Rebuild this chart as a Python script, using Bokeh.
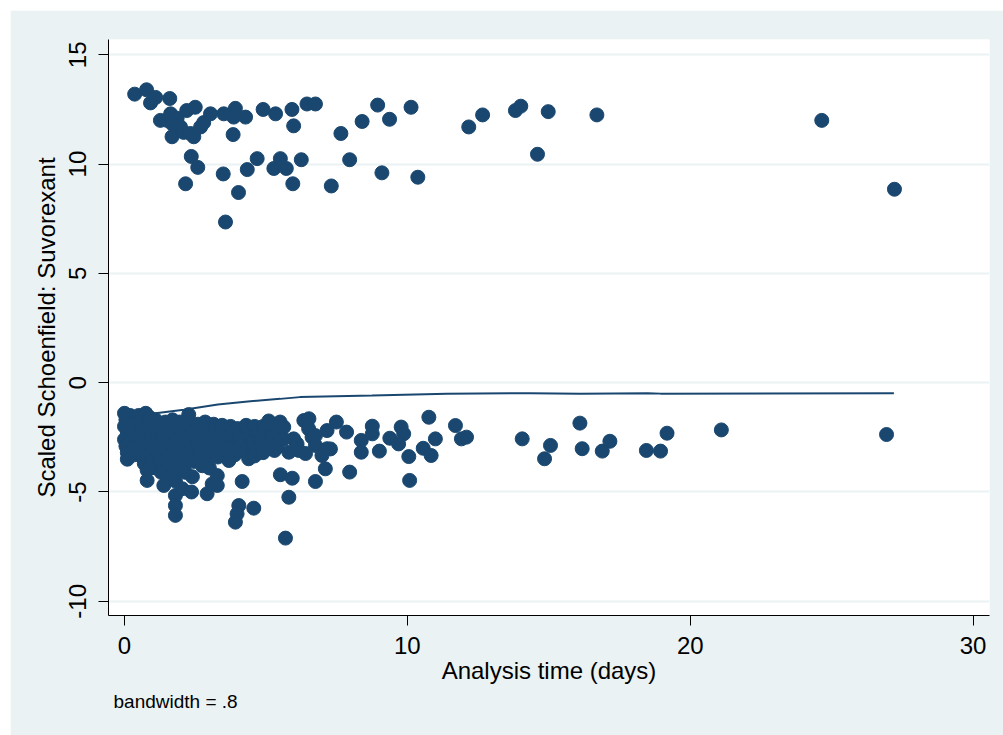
import math
from bokeh.plotting import figure
from bokeh.models import Range1d, FixedTicker, Title
from bokeh.embed import file_html
from bokeh.resources import INLINE

# Upper group of scaled Schoenfield residuals (time in days, residual)
upper_time = [0.36, 0.78, 1.10, 0.92, 1.6, 1.27, 1.51, 1.63, 1.86, 1.68, 1.68, 1.98, 2.09, 2.2, 2.5,
              2.33, 2.45, 2.69, 2.8, 3.04, 3.51, 3.92, 3.86, 4.28, 3.84, 4.9, 5.34, 5.92, 5.98, 6.45,
              6.75, 7.65, 8.4, 8.95, 9.37, 10.13, 2.36, 2.59, 2.16, 3.49, 4.03, 4.34, 4.69, 5.28, 5.51,
              5.72, 5.95, 6.25, 3.57, 7.31, 7.96, 9.1, 10.37, 12.17, 12.66, 13.82, 14.01, 14.98, 14.6,
              16.7, 24.65, 27.22]
upper_resid = [13.2, 13.4, 13.05, 12.8, 13.0, 12.0, 12.0, 12.3, 12.1, 11.85, 11.25, 11.7, 11.45, 12.45, 12.6,
               11.4, 11.25, 11.7, 11.9, 12.3, 12.3, 12.55, 12.15, 12.15, 11.35, 12.5, 12.3, 12.5, 11.75, 12.75,
               12.75, 11.4, 11.95, 12.7, 12.05, 12.6, 10.35, 9.85, 9.1, 9.55, 8.7, 9.75, 10.25, 9.8, 10.25,
               9.8, 9.1, 10.2, 7.35, 9.0, 10.2, 9.6, 9.4, 11.7, 12.25, 12.45, 12.65, 12.4, 10.45,
               12.25, 12.0, 8.85]

# Lower group: dense mass at early times, then scattered later residuals
lower_time = [0.0, 0.05, 0.0, 0.1, 0.0, 0.05, 0.1, 0.1, 0.2, 0.25, 0.3, 0.2, 0.3, 0.35,
              0.5, 0.55, 0.6, 0.5, 0.6, 0.55, 0.65, 0.7, 0.8, 0.8, 0.75, 0.9, 0.85, 0.95, 0.9, 1.0, 0.95, 1.0, 1.1,
              1.1, 1.2, 1.15, 1.25, 1.2, 1.3, 1.25, 1.35, 1.3, 1.39, 1.45, 1.5, 1.4, 1.5, 1.45, 1.55, 1.5, 1.6,
              1.7, 1.75, 1.65, 1.8, 1.7, 1.85, 1.75, 1.8, 1.8, 1.8, 1.8, 1.8, 1.95, 2.0, 2.05, 1.95, 2.1, 2.0, 2.1, 2.04, 2.15,
              2.27, 2.3, 2.25, 2.35, 2.3, 2.4, 2.35, 2.45, 2.37, 2.4, 2.6, 2.55, 2.65, 2.6, 2.7, 2.65, 2.75,
              2.85, 2.9, 2.85, 2.95, 2.9, 2.92, 3.0, 3.1, 3.0,
              3.15, 3.2, 3.1, 3.25, 3.2, 3.3, 3.28, 3.28, 3.45, 3.5, 3.55, 3.45, 3.6, 3.69, 3.75, 3.8, 3.85, 3.75, 3.9,
              4.0, 4.05, 4.1, 4.0, 4.16, 4.04, 3.98, 3.92,
              4.3, 4.35, 4.25, 4.4, 4.3, 4.39, 4.57, 4.6, 4.65, 4.55, 4.7, 4.6, 4.9, 4.95, 4.85, 5.0, 4.9,
              5.2, 5.25, 5.15, 5.3, 5.45, 5.5, 5.4, 5.51, 5.93, 5.81, 5.69, 5.1, 5.5,
              5.98, 6.63, 6.75, 6.98, 6.16, 6.4, 6.34, 6.52, 7.16, 7.16, 7.1, 6.75, 5.63, 5.63, 5.81, 6.1, 6.51, 6.75,
              7.49, 7.85, 7.28, 7.96, 8.37, 8.37, 8.76, 8.76, 9.01, 9.38, 9.78, 9.87, 9.69, 10.05, 10.08, 10.56,
              10.84, 10.99, 10.76, 11.7, 11.91, 12.09, 14.06, 15.06, 14.85, 16.1, 16.18, 16.89, 17.16, 18.45,
              18.95, 19.18, 21.1, 26.94]
lower_resid = [-1.4, -1.7, -2.0, -2.3, -2.6, -2.9, -3.2, -3.5, -1.5, -1.9, -2.2, -2.7, -3.0, -3.3,
               -1.5, -1.8, -2.2, -2.5, -2.8, -3.1, -3.4, -3.7, -4.0, -4.47, -1.4, -1.6, -2.0, -2.4, -2.7, -3.0, -3.3, -3.6, -3.9,
               -1.7, -2.0, -2.3, -2.6, -2.9, -3.2, -3.5, -3.8, -4.1, -4.7, -1.8, -2.1, -2.45, -2.75, -3.05, -3.35, -3.65, -4.3,
               -1.7, -2.0, -2.3, -2.6, -2.9, -3.2, -3.5, -3.9, -4.5, -5.16, -5.62, -6.07, -1.8, -2.1, -2.4, -2.7, -3.0, -3.3, -3.6, -4.85, -4.1,
               -1.46, -1.8, -2.1, -2.4, -2.7, -3.0, -3.3, -3.6, -5.0, -4.3, -1.9, -2.2, -2.5, -2.8, -3.1, -3.4, -3.8,
               -1.8, -2.1, -2.4, -2.7, -3.0, -5.08, -3.35, -4.63, -3.9,
               -1.9, -2.2, -2.5, -2.8, -3.1, -3.4, -4.25, -4.7, -1.95, -2.3, -2.6, -2.9, -3.2, -3.56, -2.0, -2.35, -2.7, -3.0, -3.3,
               -2.1, -2.5, -2.8, -3.1, -4.52, -5.62, -6.0, -6.38,
               -1.95, -2.3, -2.6, -2.9, -3.2, -3.48, -5.74, -2.0, -2.4, -2.75, -3.05, -3.35, -2.0, -2.3, -2.6, -2.9, -3.2,
               -2.1, -2.45, -2.8, -3.1, -2.2, -2.6, -2.95, -4.21, -4.37, -5.24, -7.11, -1.75, -1.8,
               -2.57, -2.49, -2.87, -3.33, -3.1, -3.24, -1.73, -1.65, -2.19, -3.02, -3.94, -4.52, -2.03, -2.57, -3.18, -2.8, -2.11, -2.42,
               -1.8, -2.26, -3.03, -4.09, -2.64, -3.18, -1.99, -2.34, -3.13, -2.54, -2.03, -2.34, -2.80, -3.38, -4.47, -3.0,
               -3.33, -2.57, -1.58, -1.96, -2.57, -2.49, -2.57, -2.87, -3.48, -1.85, -3.02, -3.13, -2.68, -3.1,
               -3.13, -2.31, -2.16, -2.37]

# Lowess smooth (bandwidth = .8)
smooth_time = [0.0, 0.5, 1.1, 2.1, 3.3, 4.45, 5.5, 6.2, 8.75, 11.4, 14.35, 16.1, 18.5, 18.95, 27.2]
smooth_resid = [-1.75, -1.58, -1.40, -1.24, -1.0, -0.85, -0.74, -0.66, -0.59, -0.51, -0.48, -0.50, -0.48, -0.50, -0.48]

x_ticks = [0, 10, 20, 30]
y_ticks = [-10, -5, 0, 5, 10, 15]

NAVY = "#1a476f"
BG = "#eaf2f3"
FONT = "Liberation Sans"

p = figure(width=993, height=725,
           x_range=Range1d(-0.566, 30.58), y_range=Range1d(-10.65, 15.70),
           output_backend="svg", toolbar_location=None,
           min_border_left=98, min_border_right=14, min_border_top=29, min_border_bottom=120,
           background_fill_color="white", border_fill_color=BG, outline_line_color=None)
p.margin = (10, 0, 0, 10)

p.scatter(upper_time, upper_resid, size=14, fill_color=NAVY, line_color=NAVY, line_width=1)
p.scatter(lower_time, lower_resid, size=14, fill_color=NAVY, line_color=NAVY, line_width=1)
p.line(smooth_time, smooth_resid, line_color=NAVY, line_width=2)

p.xaxis.ticker = FixedTicker(ticks=x_ticks)
p.yaxis.ticker = FixedTicker(ticks=y_ticks)
p.yaxis.major_label_overrides = {t: str(t) for t in y_ticks}
p.xaxis.major_label_overrides = {t: str(t) for t in x_ticks}
for ax in (p.xaxis[0], p.yaxis[0]):
    ax.axis_line_color = "black"
    ax.major_tick_line_color = "black"
    ax.major_tick_out = 10
    ax.major_tick_in = 0
    ax.minor_tick_line_color = None
    ax.major_label_text_font = FONT
    ax.major_label_text_font_size = "24px"
    ax.major_label_text_color = "black"
    ax.axis_label_text_font = FONT
    ax.axis_label_text_font_size = "24px"
    ax.axis_label_text_font_style = "normal"
    ax.axis_label_text_color = "black"

p.xaxis.axis_label = "Analysis time (days)"
p.yaxis.axis_label = "Scaled Schoenfield: Suvorexant"
p.xaxis.major_label_standoff = 11
p.xaxis.axis_label_standoff = 0
p.yaxis.major_label_orientation = "vertical"
p.yaxis.major_label_standoff = 12
p.yaxis.axis_label_standoff = 7

p.xgrid.grid_line_color = None
p.ygrid.grid_line_color = BG
p.ygrid.grid_line_width = 2

note = Title(text="bandwidth = .8", align="left", offset=5, text_font=FONT,
             text_font_size="19px", text_font_style="normal", text_color="black", standoff=5)
p.add_layout(note, "below")

open("out.html", "w").write(file_html(p, INLINE))
